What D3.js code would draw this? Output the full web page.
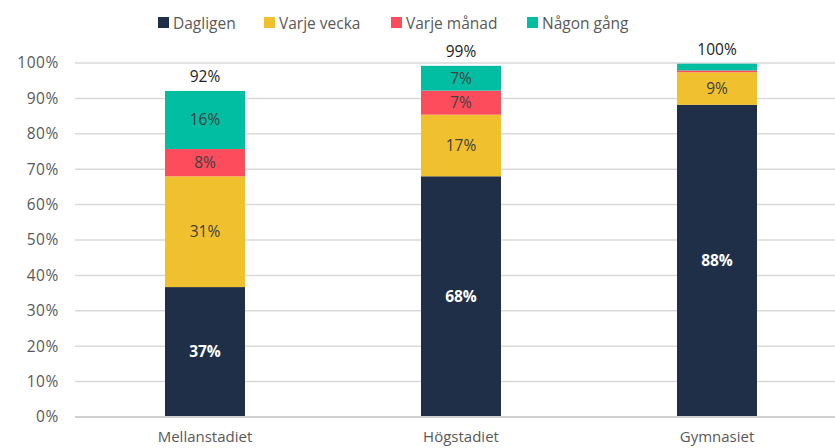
<!DOCTYPE html>
<html><head><meta charset="utf-8">
<script src="https://cdn.jsdelivr.net/npm/d3@7"></script>
<style>body{margin:0;background:#fff;}svg{display:block;font-family:"Open Sans",sans-serif;}</style>
</head><body><svg id="c" width="835" height="448"></svg>
<script>
const categories = ["Mellanstadiet", "Högstadiet", "Gymnasiet"];
const seriesNames = ["Dagligen", "Varje vecka", "Varje månad", "Någon gång"];
const dagligen = [36.7, 68.0, 88.2];
const varjeVecka = [31.3, 17.4, 9.2];
const varjeManad = [7.7, 6.8, 0.5];
const nagonGang = [16.4, 7.0, 1.9];
const colors = ["#1e2f47", "#f0c02f", "#fd4c5c", "#01bea3"];
const yTicks = [0, 10, 20, 30, 40, 50, 60, 70, 80, 90, 100];

const seriesValues = [dagligen, varjeVecka, varjeManad, nagonGang];
const rows = categories.map((c, i) => {
  const r = {cat: c};
  seriesNames.forEach((s, j) => r[s] = seriesValues[j][i]);
  return r;
});
const stacked = d3.stack().keys(seriesNames)(rows);

const svg = d3.select("#c");
const x = d3.scaleBand().domain(categories).range([77, 845]).paddingInner(0.6875).paddingOuter(0.34375);
const y = d3.scaleLinear().domain([0, 100]).range([417, 63]);

// gridlines
svg.append("g").selectAll("line").data(yTicks).join("line")
  .attr("x1", 75).attr("x2", 835)
  .attr("y1", d => y(d)).attr("y2", d => y(d))
  .attr("stroke", "#d9d9d9").attr("stroke-width", 1.5);

// y axis
const yAxis = d3.axisLeft(y).tickValues(yTicks).tickFormat(d => d + "%").tickSize(0).tickPadding(0);
const ya = svg.append("g").attr("transform", "translate(59,0)").call(yAxis);
ya.select(".domain").remove();
ya.selectAll("text").attr("font-size", 15.5).attr("fill", "#595959").attr("letter-spacing", "0.6px").attr("font-family", "Open Sans, sans-serif");

// bars
const g = svg.append("g");
stacked.forEach((layer, j) => {
  g.selectAll(null).data(layer).join("rect")
    .attr("x", d => x(d.data.cat))
    .attr("width", x.bandwidth())
    .attr("y", d => y(d[1]))
    .attr("height", d => y(d[0]) - y(d[1]))
    .attr("fill", colors[j]);
  g.selectAll(null).data(layer.filter(d => d[1] - d[0] >= 3)).join("text")
    .attr("x", d => x(d.data.cat) + x.bandwidth() / 2)
    .attr("y", d => (y(d[0]) + y(d[1])) / 2)
    .attr("dy", "0.35em")
    .attr("text-anchor", "middle")
    .attr("font-size", 15.5)
    .attr("font-weight", j === 0 ? "bold" : "normal")
    .attr("fill", j === 0 ? "#ffffff" : "#404040")
    .text(d => Math.round(d[1] - d[0]) + "%");
});

// totals
const last = stacked[stacked.length - 1];
g.selectAll(null).data(last).join("text")
  .attr("x", d => x(d.data.cat) + x.bandwidth() / 2)
  .attr("y", d => y(d[1]) - 9)
  .attr("text-anchor", "middle")
  .attr("font-size", 15.5)
  .attr("fill", "#222")
  .text(d => Math.round(d[1]) + "%");

// baseline
svg.append("line").attr("x1", 75).attr("x2", 835).attr("y1", y(0)).attr("y2", y(0))
  .attr("stroke", "#d0d0d0").attr("stroke-width", 2);

// x axis
const xAxis = d3.axisBottom(x).tickSize(0).tickPadding(0);
const xa = svg.append("g").attr("transform", `translate(0,${y(0)})`).call(xAxis);
xa.select(".domain").remove();
xa.selectAll("text").attr("dy", null).attr("y", 25).attr("font-size", 15).attr("fill", "#595959").attr("font-family", "Open Sans, sans-serif");

// legend
const legendX = [158, 264, 391, 527];
const lg = svg.append("g");
seriesNames.forEach((s, j) => {
  lg.append("rect").attr("x", legendX[j]).attr("y", 17).attr("width", 11).attr("height", 11).attr("fill", colors[j]);
  lg.append("text").attr("x", legendX[j] + 15).attr("y", 29).attr("font-size", 15.5).attr("fill", "#595959").text(s);
});
</script></body></html>
